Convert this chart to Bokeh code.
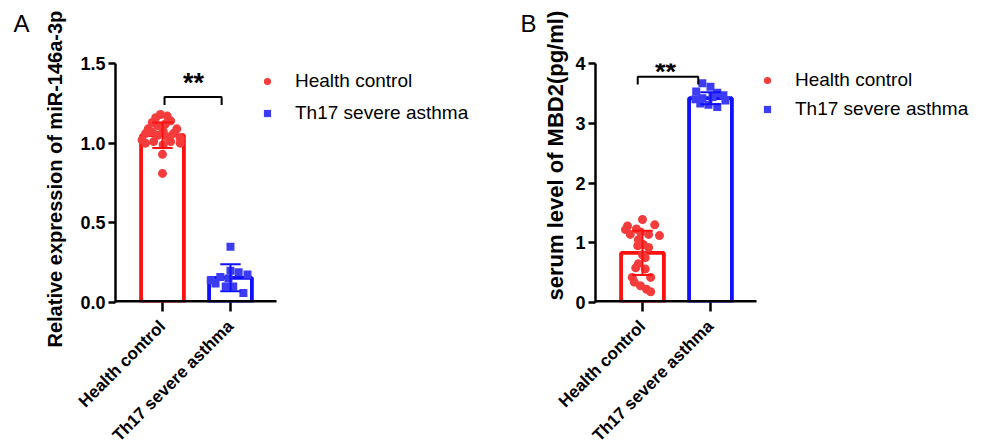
import math
from bokeh.plotting import figure
from bokeh.models import (ColumnDataSource, Range1d, Legend, LegendItem, Label, Title,
                          FixedTicker, NumeralTickFormatter)
from bokeh.layouts import row
from bokeh.embed import file_html
from bokeh.resources import INLINE

# ---------------- data ----------------
groups = ["Health control", "Th17 severe asthma"]

# Panel A: relative expression of miR-146a-3p
a_means = [1.05, 0.155]
a_sds = [0.08, 0.085]
a_hc_vals = [1.18, 1.17, 1.16, 1.13, 1.14, 1.11, 1.06, 1.07, 1.075, 1.06, 1.03, 1.00,
             1.01, 1.01, 1.00, 0.99, 1.05, 1.04, 0.93, 0.81, 1.02, 1.09, 1.09, 1.12]
a_hc_jit = [-0.03, 0.07, -0.10, -0.15, 0.12, -0.07, -0.25, -0.15, 0.01, 0.16, 0.26, -0.25,
            -0.13, 0.12, 0.26, 0.01, -0.07, 0.07, 0.0, 0.0, -0.30, 0.21, -0.21, 0.04]
a_th_vals = [0.35, 0.20, 0.19, 0.175, 0.16, 0.14, 0.12, 0.10, 0.10, 0.06, 0.15]
a_th_jit = [0.0, 0.0, 0.12, 0.25, -0.15, -0.29, -0.22, -0.07, 0.04, 0.19, -0.03]

# Panel B: serum level of MBD2 (pg/ml)
b_means = [0.83, 3.42]
b_sds = [0.37, 0.10]
b_hc_vals = [1.39, 1.28, 1.30, 1.23, 1.22, 1.18, 1.14, 1.14, 1.12, 1.05, 0.97, 0.95,
             0.92, 0.80, 0.75, 0.58, 0.56, 0.42, 0.42, 0.34, 0.28, 0.22, 0.18, 0.65]
b_hc_jit = [0.0, -0.22, 0.18, -0.09, -0.25, -0.03, -0.18, 0.09, 0.25, -0.06, 0.01, -0.07,
            0.09, 0.0, 0.04, -0.10, 0.04, -0.15, 0.12, -0.12, -0.03, 0.06, 0.12, -0.06]
b_th_vals = [3.67, 3.61, 3.53, 3.51, 3.47, 3.42, 3.44, 3.33, 3.31, 3.27, 3.40, 3.38]
b_th_jit = [-0.12, 0.0, -0.21, 0.10, 0.19, -0.12, 0.03, -0.15, -0.03, 0.10, -0.22, 0.22]

a_yticks = [0, 0.5, 1.0, 1.5]
b_yticks = [0, 1, 2, 3, 4]

# ---------------- style ----------------
FONT = "Liberation Sans"
RED_BAR, BLUE_BAR = "#ff1010", "#1010ff"
RED_PT, BLUE_PT = "#f43c3c", "#3c3cf4"
PX_PER_CAT = 68.0
X0 = -0.191          # left end of x axis (category units, first category centred at 0.5)
X_AXIS_END = 2.177   # right end of the drawn x axis line


def make_panel(letter, ytitle, ymax, yticks, yfmt, means, sds, hc_vals, hc_jit, th_vals, th_jit,
               fig_width, top_border, br_x, br_y, star_pos, title_offset, title_standoff,
               title_size, letter_offset, legend_pos, legend_spacing):
    frame_w = fig_width - 115
    centers = [i + 0.5 for i in range(len(groups))]
    p = figure(x_range=Range1d(X0, X0 + frame_w / PX_PER_CAT), y_range=Range1d(0, ymax),
               frame_width=frame_w, frame_height=239,
               min_border_left=115, min_border_right=0, min_border_top=top_border,
               min_border_bottom=130, output_backend="svg", toolbar_location=None)
    p.grid.visible = False
    p.outline_line_color = None
    p.background_fill_color = "white"

    # bars
    p.vbar(x=centers, top=means, width=0.63, fill_color="white",
           line_color=[RED_BAR, BLUE_BAR], line_width=3.8)

    # points
    hc_src = ColumnDataSource(dict(x=[centers[0] + j for j in hc_jit], y=hc_vals))
    th_src = ColumnDataSource(dict(x=[centers[1] + j for j in th_jit], y=th_vals))
    r_hc = p.scatter("x", "y", source=hc_src, marker="circle", size=9,
                     fill_color=RED_PT, line_color=None)
    r_th = p.scatter("x", "y", source=th_src, marker="square", size=8,
                     fill_color=BLUE_PT, line_color=None)

    # error bars (mean +/- SD)
    cols = [RED_BAR, BLUE_BAR]
    lo = [m - s for m, s in zip(means, sds)]
    hi = [m + s for m, s in zip(means, sds)]
    p.segment(x0=centers, x1=centers, y0=lo, y1=hi, line_color=cols, line_width=2)
    p.segment(x0=[c - 0.15 for c in centers], x1=[c + 0.15 for c in centers], y0=hi, y1=hi,
              line_color=cols, line_width=2)
    p.segment(x0=[c - 0.15 for c in centers], x1=[c + 0.15 for c in centers], y0=lo, y1=lo,
              line_color=cols, line_width=2)

    # x axis line (only under the categories)
    p.segment(x0=[X0], x1=[X_AXIS_END], y0=[0], y1=[0], line_color="black", line_width=5)

    # significance bracket
    p.line(x=[br_x[0], br_x[0], br_x[1], br_x[1]], y=[br_y[0], br_y[1], br_y[1], br_y[0]],
           line_color="black", line_width=2)
    p.add_layout(Label(x=star_pos[0], y=star_pos[1], text="**", text_align="center",
                       text_baseline="alphabetic", text_font=FONT, text_font_style="bold",
                       text_font_size="27px", text_color="black"))

    # axes
    for ax in (p.xaxis[0], p.yaxis[0]):
        ax.axis_line_width = 2.5
        ax.axis_line_color = "black"
        ax.major_tick_line_width = 2.5
        ax.major_tick_line_color = "black"
        ax.major_tick_in = 0
        ax.minor_tick_line_color = None
        ax.major_label_text_font = FONT
        ax.major_label_text_font_style = "bold"
        ax.major_label_text_color = "black"
    p.yaxis.major_label_text_font_size = "18px"
    p.yaxis.major_tick_out = 7
    p.yaxis.major_label_standoff = 3
    p.yaxis.ticker = FixedTicker(ticks=yticks)
    p.yaxis.formatter = NumeralTickFormatter(format=yfmt)
    p.xaxis.axis_line_color = None
    p.xaxis.ticker = FixedTicker(ticks=centers)
    p.xaxis.major_label_overrides = {c: g for c, g in zip(centers, groups)}
    p.xaxis.major_label_text_font_size = "17px"
    p.xaxis.major_tick_out = 9
    p.xaxis.major_label_standoff = 12
    p.xaxis.major_label_orientation = math.pi / 4

    # y title (left side panel)
    p.add_layout(Title(text=ytitle, align="left", offset=title_offset, standoff=title_standoff,
                       text_font=FONT, text_font_style="bold", text_font_size=title_size,
                       text_color="black"), "left")
    # panel letter (above, with a spacer below it)
    p.add_layout(Title(text=" ", text_font_size="10px", standoff=14), "above")
    p.add_layout(Title(text=letter, align="left", offset=letter_offset, standoff=0,
                       text_font=FONT, text_font_style="normal", text_font_size="24px",
                       text_color="black"), "above")

    # legend
    legend = Legend(items=[LegendItem(label=groups[0], renderers=[r_hc]),
                           LegendItem(label=groups[1], renderers=[r_th])],
                    location=legend_pos, orientation="vertical",
                    glyph_width=18, glyph_height=18, label_standoff=19, label_height=20,
                    spacing=legend_spacing, padding=0, margin=0,
                    label_text_font=FONT, label_text_font_size="19px", label_text_color="black",
                    border_line_color=None, background_fill_alpha=0)
    p.add_layout(legend, "center")
    return p


pa = make_panel("A", "Relative expression of miR-146a-3p", 1.5, a_yticks, "0.0",
                a_means, a_sds, a_hc_vals, a_hc_jit, a_th_vals, a_th_jit,
                fig_width=480, top_border=63, br_x=(0.53, 1.37), br_y=(1.24, 1.29),
                star_pos=(0.956, 1.38), title_offset=-45, title_standoff=24, title_size="20px",
                letter_offset=-102, legend_pos=(143, 178), legend_spacing=10)

pb = make_panel("B", "serum level of MBD2(pg/ml)", 4, b_yticks, "0",
                b_means, b_sds, b_hc_vals, b_hc_jit, b_th_vals, b_th_jit,
                fig_width=506, top_border=61, br_x=(0.43, 1.32), br_y=(3.65, 3.78),
                star_pos=(0.838, 3.85), title_offset=2, title_standoff=9, title_size="22px",
                letter_offset=-75, legend_pos=(163, 182), legend_spacing=7)

layout = row(pa, pb)
open("out.html", "w").write(file_html(layout, INLINE))
